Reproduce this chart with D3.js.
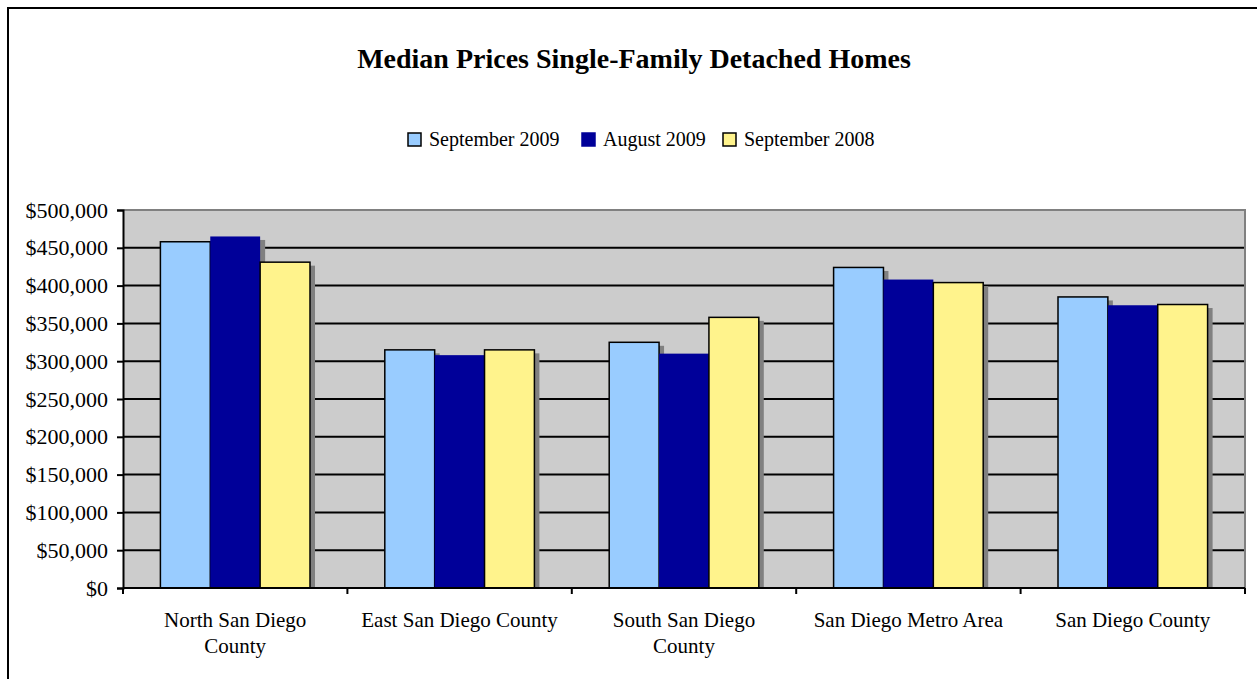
<!DOCTYPE html>
<html>
<head>
<meta charset="utf-8">
<script src="https://cdn.jsdelivr.net/npm/d3@7"></script>
<style>
  body { margin: 0; background: #fff; }
  text { font-family: "Liberation Serif", "Times New Roman", serif; fill: #000; }
</style>
</head>
<body>
<svg id="chart" width="1257" height="679"></svg>
<script>
// data
var regions = ["North San Diego County", "East San Diego County", "South San Diego County", "San Diego Metro Area", "San Diego County"];
var regionLines = [["North San Diego", "County"], ["East San Diego County"], ["South San Diego", "County"], ["San Diego Metro Area"], ["San Diego County"]];
var seriesNames = ["September 2009", "August 2009", "September 2008"];
var sep2009 = [458000, 315000, 325000, 424000, 385000];
var aug2009 = [465000, 308000, 310000, 408000, 374000];
var sep2008 = [431000, 315000, 358000, 404000, 375000];
var yTicks = [0, 50000, 100000, 150000, 200000, 250000, 300000, 350000, 400000, 450000, 500000];
var colors = ["#99ccff", "#000099", "#fff38c"];

var seriesVals = [sep2009, aug2009, sep2008];

var svg = d3.select("#chart");
var plot = {left: 123, right: 1245, top: 210, bottom: 588};

// outer frame (chart is cropped at right and bottom)
svg.append("rect")
  .attr("x", 8).attr("y", 8)
  .attr("width", 1270).attr("height", 700)
  .attr("fill", "none").attr("stroke", "#000").attr("stroke-width", 2);

svg.append("text")
  .attr("x", 634).attr("y", 68)
  .attr("text-anchor", "middle")
  .attr("font-size", 28).attr("font-weight", "bold")
  .text("Median Prices Single-Family Detached Homes");

// legend
var legendX = [408, 582, 723];
var legend = svg.append("g").selectAll("g")
  .data(seriesNames).enter().append("g")
  .attr("transform", function(d, i) { return "translate(" + legendX[i] + ",133)"; });
legend.append("rect")
  .attr("width", 13).attr("height", 13)
  .attr("fill", function(d, i) { return colors[i]; })
  .attr("stroke", function(d, i) { return i == 1 ? colors[i] : "#000"; })
  .attr("stroke-width", 1.5);
legend.append("text")
  .attr("x", 21).attr("y", 13)
  .attr("font-size", 20)
  .text(function(d) { return d; });

var x0 = d3.scaleBand()
  .domain(regions)
  .range([plot.left, plot.right])
  .paddingInner(1 / 3).paddingOuter(1 / 6);
var x1 = d3.scaleBand()
  .domain(d3.range(3))
  .range([0, x0.bandwidth()]);
var y = d3.scaleLinear()
  .domain([0, 500000])
  .range([plot.bottom, plot.top]);

// plot background
svg.append("rect")
  .attr("x", plot.left).attr("y", plot.top)
  .attr("width", plot.right - plot.left).attr("height", plot.bottom - plot.top)
  .attr("fill", "#cccccc");

// gridlines
svg.append("g").selectAll("line")
  .data(yTicks.filter(function(d) { return d > 0 && d < 500000; }))
  .enter().append("line")
  .attr("x1", plot.left).attr("x2", plot.right)
  .attr("y1", function(d) { return y(d); }).attr("y2", function(d) { return y(d); })
  .attr("stroke", "#000").attr("stroke-width", 2);

// plot frame top / right
svg.append("path")
  .attr("d", "M" + plot.left + "," + plot.top + "H" + plot.right + "V" + plot.bottom)
  .attr("fill", "none").attr("stroke", "#808080").attr("stroke-width", 2);

// bars with drop shadows
var groups = svg.append("g").selectAll("g")
  .data(regions).enter().append("g")
  .attr("transform", function(d) { return "translate(" + x0(d) + ",0)"; });

groups.each(function(d, gi) {
  var g = d3.select(this);
  var data = seriesVals.map(function(s, si) { return {si: si, v: s[gi]}; });
  g.selectAll("rect.shadow").data(data).enter().append("rect")
    .attr("class", "shadow")
    .attr("x", function(e) { return x1(e.si) + 5; })
    .attr("y", function(e) { return y(e.v) + 3.5; })
    .attr("width", x1.bandwidth())
    .attr("height", function(e) { return plot.bottom - y(e.v) - 3.5; })
    .attr("fill", "#808080");
  g.selectAll("rect.bar").data(data).enter().append("rect")
    .attr("class", "bar")
    .attr("x", function(e) { return x1(e.si); })
    .attr("y", function(e) { return y(e.v); })
    .attr("width", x1.bandwidth())
    .attr("height", function(e) { return plot.bottom - y(e.v); })
    .attr("fill", function(e) { return colors[e.si]; })
    .attr("stroke", function(e) { return e.si == 1 ? "none" : "#000"; })
    .attr("stroke-width", 1.5);
});

// y axis
var yAxis = svg.append("g")
  .attr("transform", "translate(" + plot.left + ",0)")
  .call(d3.axisLeft(y).tickValues(yTicks).tickSize(6).tickPadding(9)
    .tickFormat(function(d) { return "$" + d3.format(",")(d); }));
yAxis.select(".domain").attr("stroke-width", 2);
yAxis.selectAll(".tick line").attr("stroke-width", 2);
yAxis.selectAll("text").attr("font-size", 22).attr("font-family", "Liberation Serif").attr("fill", "#000");

// x axis with ticks at category boundaries
var boundaries = d3.range(regions.length + 1).map(function(i) {
  return plot.left + i * x0.step();
});
svg.append("line")
  .attr("x1", plot.left).attr("x2", plot.right)
  .attr("y1", plot.bottom).attr("y2", plot.bottom)
  .attr("stroke", "#000").attr("stroke-width", 2);
svg.append("g").selectAll("line")
  .data(boundaries).enter().append("line")
  .attr("x1", function(d) { return d; }).attr("x2", function(d) { return d; })
  .attr("y1", plot.bottom).attr("y2", plot.bottom + 6)
  .attr("stroke", "#000").attr("stroke-width", 2);

svg.append("g").selectAll("text")
  .data(regions).enter().append("text")
  .attr("x", function(d) { return x0(d) + x0.bandwidth() / 2; })
  .attr("y", 627)
  .attr("text-anchor", "middle")
  .attr("font-size", 21)
  .each(function(d, i) {
    var t = d3.select(this);
    regionLines[i].forEach(function(line, li) {
      t.append("tspan")
        .attr("x", x0(d) + x0.bandwidth() / 2)
        .attr("dy", li == 0 ? 0 : 26)
        .text(line);
    });
  });
</script>
</body>
</html>
